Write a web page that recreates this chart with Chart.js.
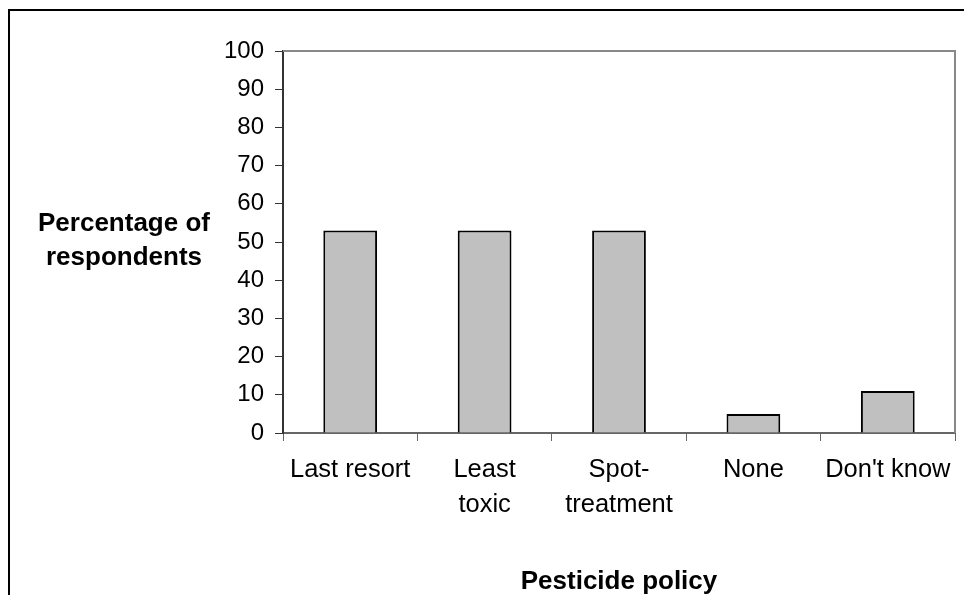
<!DOCTYPE html>
<html>
<head>
<meta charset="utf-8">
<script src="https://cdn.jsdelivr.net/npm/chart.js@4"></script>
<style>
  html, body { margin: 0; padding: 0; background: #fff; }
  #wrap { position: relative; width: 964px; height: 595px; }
</style>
</head>
<body>
<div id="wrap"><canvas id="chart" width="964" height="595"></canvas></div>
<script>
var categories = ['Last resort', ['Least', 'toxic'], ['Spot-', 'treatment'], 'None', "Don't know"];
var percentages = [53, 53, 53, 5, 11];
var yTicks = [0, 10, 20, 30, 40, 50, 60, 70, 80, 90, 100];
var yTitle = ['Percentage of', 'respondents'];
var xTitle = 'Pesticide policy';

Chart.defaults.font.family = '"Liberation Sans", Arial, sans-serif';
Chart.defaults.color = '#000';

// frame, plot border and horizontal axis titles
var decor = {
  id: 'decor',
  beforeDatasetsDraw: function(chart) {
    var ctx = chart.ctx, a = chart.chartArea;
    ctx.save();
    ctx.strokeStyle = '#888';
    ctx.lineWidth = 2;
    ctx.beginPath();
    ctx.moveTo(a.left, a.top);
    ctx.lineTo(a.right, a.top);
    ctx.lineTo(a.right, a.bottom);
    ctx.stroke();
    ctx.restore();
  },
  afterDraw: function(chart) {
    var ctx = chart.ctx, a = chart.chartArea;
    ctx.save();
    ctx.strokeStyle = '#000';
    ctx.lineWidth = 2;
    ctx.beginPath();
    ctx.moveTo(9, 595);
    ctx.lineTo(9, 10);
    ctx.lineTo(964, 10);
    ctx.stroke();
    ctx.fillStyle = '#000';
    ctx.font = 'bold 26px "Liberation Sans", Arial, sans-serif';
    ctx.textAlign = 'center';
    ctx.textBaseline = 'alphabetic';
    ctx.fillText(yTitle[0], 124, 231);
    ctx.fillText(yTitle[1], 124, 265);
    ctx.textBaseline = 'middle';
    ctx.fillText(xTitle, (a.left + a.right) / 2, 582);
    ctx.restore();
  }
};

new Chart(document.getElementById('chart'), {
  type: 'bar',
  data: {
    labels: categories,
    datasets: [{
      data: percentages,
      backgroundColor: '#c0c0c0',
      borderColor: '#000',
      borderWidth: 2,
      categoryPercentage: 1,
      barPercentage: 0.4
    }]
  },
  options: {
    responsive: false,
    animation: false,
    layout: { padding: { top: 51, right: 9, bottom: 0, left: 0 } },
    plugins: {
      legend: { display: false },
      tooltip: { enabled: false }
    },
    scales: {
      x: {
        afterFit: function(scale) { scale.height = 162; },
        grid: { drawOnChartArea: false, tickLength: 8, color: '#666', offset: true },
        border: { color: '#666', width: 2 },
        ticks: { font: { size: 25.5, lineHeight: 1.36 }, padding: 12, maxRotation: 0, autoSkip: false }
      },
      y: {
        min: 0,
        max: 100,
        afterFit: function(scale) { scale.width = 283; },
        afterBuildTicks: function(scale) {
          scale.ticks = yTicks.map(function(v) { return { value: v }; });
        },
        grid: { drawOnChartArea: false, tickLength: 8, color: '#333' },
        border: { color: '#333', width: 2 },
        ticks: { font: { size: 24 }, padding: 11 }
      }
    }
  },
  plugins: [decor]
});
</script>
</body>
</html>
